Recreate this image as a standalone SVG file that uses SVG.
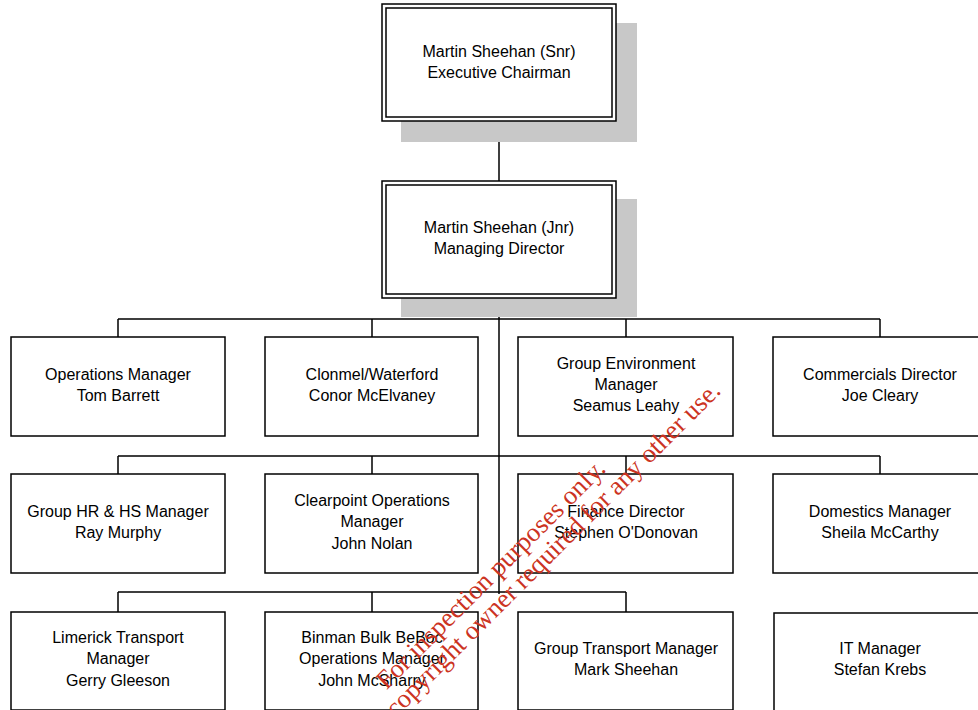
<svg xmlns="http://www.w3.org/2000/svg" width="978" height="710" viewBox="0 0 978 710">
<style>
.box{fill:#fff;stroke:#000;stroke-width:1.5}
.inner{fill:none;stroke:#000;stroke-width:1.5}
.shadow{fill:#c8c8c8}
.ln{stroke:#000;stroke-width:1.5;fill:none}
text{font-family:"Liberation Sans",Arial,sans-serif;font-size:16px;fill:#000;text-anchor:middle}
.wm{font-family:"Liberation Serif","Times New Roman",serif;font-size:26.5px;fill:#cc3322;text-anchor:end}
</style>
<rect width="978" height="710" fill="#fff"/>
<g id="connectors">
<path class="ln" d="M499 121V181M499 298V594M118 319H880M118 319V337M372 319V337M626 319V337M880 319V337M118 456H880M118 456V474M372 456V474M626 456V474M880 456V474M118 592H626M118 592V612M372 592V612M626 592V612"/>
</g>
<g id="n1">
<rect class="shadow" x="401" y="23" width="236" height="119"/>
<rect class="box" x="382" y="4" width="234" height="117"/>
<rect class="inner" x="386" y="8" width="226" height="109"/>
<text x="499" y="57">Martin Sheehan (Snr)</text>
<text x="499" y="78">Executive Chairman</text>
</g>
<g id="n2">
<rect class="shadow" x="401" y="199" width="236" height="118"/>
<rect class="box" x="382" y="181" width="234" height="117"/>
<rect class="inner" x="386" y="185" width="226" height="109"/>
<text x="499" y="233">Martin Sheehan (Jnr)</text>
<text x="499" y="254">Managing Director</text>
</g>
<g id="n3"><rect class="box" x="11" y="337" width="214" height="99"/><text x="118" y="380">Operations Manager</text><text x="118" y="401">Tom Barrett</text></g>
<g id="n4"><rect class="box" x="265" y="337" width="213" height="99"/><text x="372" y="380">Clonmel/Waterford</text><text x="372" y="401">Conor McElvaney</text></g>
<g id="n5"><rect class="box" x="518" y="337" width="215" height="99"/><text x="626" y="369">Group Environment</text><text x="626" y="390">Manager</text><text x="626" y="411">Seamus Leahy</text></g>
<g id="n6"><rect class="box" x="773" y="337" width="210" height="99"/><text x="880" y="380">Commercials Director</text><text x="880" y="401">Joe Cleary</text></g>
<g id="n7"><rect class="box" x="11" y="474" width="214" height="99"/><text x="118" y="517">Group HR &amp; HS Manager</text><text x="118" y="538">Ray Murphy</text></g>
<g id="n8"><rect class="box" x="265" y="474" width="213" height="99"/><text x="372" y="506">Clearpoint Operations</text><text x="372" y="527">Manager</text><text x="372" y="549">John Nolan</text></g>
<g id="n9"><rect class="box" x="518" y="474" width="215" height="99"/><text x="626" y="517">Finance Director</text><text x="626" y="538">Stephen O'Donovan</text></g>
<g id="n10"><rect class="box" x="773" y="474" width="210" height="99"/><text x="880" y="517">Domestics Manager</text><text x="880" y="538">Sheila McCarthy</text></g>
<g id="n11"><rect class="box" x="11" y="612" width="214" height="98"/><text x="118" y="643">Limerick Transport</text><text x="118" y="664">Manager</text><text x="118" y="686">Gerry Gleeson</text></g>
<g id="n12"><rect class="box" x="265" y="612" width="213" height="98"/><text x="372" y="643">Binman Bulk BeBoc</text><text x="372" y="664">Operations Manager</text><text x="372" y="686">John McSharry</text></g>
<g id="n13"><rect class="box" x="518" y="612" width="215" height="98"/><text x="626" y="654">Group Transport Manager</text><text x="626" y="675">Mark Sheehan</text></g>
<g id="n14"><rect class="box" x="774" y="613" width="210" height="98"/><text x="880" y="654">IT Manager</text><text x="880" y="675">Stefan Krebs</text></g>
<g id="watermark">
<text class="wm" transform="translate(607,470) rotate(-45)">For inspection purposes only.</text>
<text class="wm" transform="translate(722,392) rotate(-45)">copyright owner required for any other use.</text>
</g>
</svg>
